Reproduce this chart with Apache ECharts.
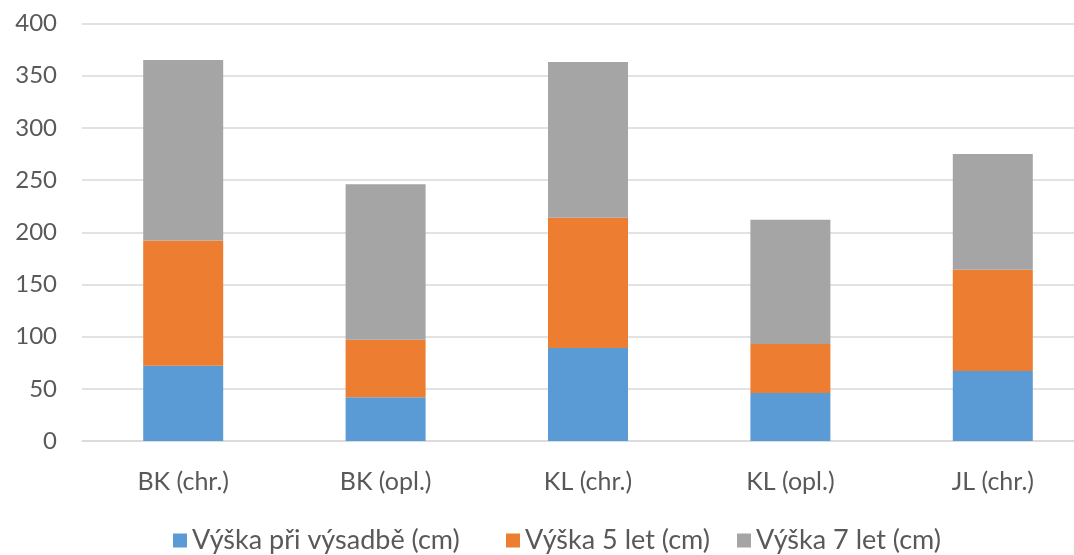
<!DOCTYPE html>
<html>
<head>
<meta charset="utf-8">
<script src="https://cdn.jsdelivr.net/npm/echarts@6/dist/echarts.min.js"></script>
<style>
  html, body { margin: 0; padding: 0; background: #fff; width: 1074px; height: 555px; overflow: hidden; }
  /* the plot area runs a little past the right edge of the page */
  #chart { width: 1094px; height: 555px; }
</style>
</head>
<body>
<div id="chart"></div>
<script>
// Kategorie (lokality)
const categories = ['BK (chr.)', 'BK (opl.)', 'KL (chr.)', 'KL (opl.)', 'JL (chr.)'];

// Názvy řad
const seriesNames = ['Výška při výsadbě (cm)', 'Výška 5 let (cm)', 'Výška 7 let (cm)'];

// Hodnoty jednotlivých segmentů (skládané sloupce)
const vyskaVysadba = [72, 42, 89, 46, 67];
const vyskaPet = [120, 55, 125, 47, 97];
const vyskaSedm = [173, 149, 149, 119, 111];

// Popisky osy Y
const yTicks = [0, 50, 100, 150, 200, 250, 300, 350, 400];

const colors = ['#5B9BD5', '#ED7D31', '#A5A5A5'];
const textColor = '#595959';
const fontFamily = 'Lato, "Open Sans", sans-serif';

const chart = echarts.init(document.getElementById('chart'), null, { renderer: 'canvas' });

const values = [vyskaVysadba, vyskaPet, vyskaSedm];

// one legend block per series, each placed on its own
const legendLeft = [173, 506, 737];
const legends = seriesNames.map((name, i) => ({
  left: legendLeft[i],
  top: 527,
  padding: 0,
  itemWidth: 14,
  itemHeight: 14,
  itemGap: 0,
  icon: 'rect',
  textStyle: { fontSize: 27, color: textColor, fontFamily: fontFamily },
  data: [name]
}));

chart.setOption({
  animation: false,
  color: colors,
  textStyle: { fontFamily: fontFamily, color: textColor },
  grid: { left: 82, top: 23.5, right: 0, bottom: 114, containLabel: false },
  legend: legends,
  xAxis: {
    type: 'category',
    data: categories,
    axisLine: { lineStyle: { color: '#d9d9d9', width: 1.5 } },
    axisTick: { show: false },
    axisLabel: { fontSize: 25, color: textColor, margin: 28, fontFamily: fontFamily }
  },
  yAxis: {
    type: 'value',
    min: yTicks[0],
    max: yTicks[yTicks.length - 1],
    interval: yTicks[1] - yTicks[0],
    axisLine: { show: false },
    axisTick: { show: false },
    splitLine: { lineStyle: { color: '#d9d9d9', width: 1.5 } },
    axisLabel: { fontSize: 24, color: textColor, margin: 25, fontFamily: fontFamily }
  },
  series: seriesNames.map((name, i) => ({
    name: name,
    type: 'bar',
    stack: 'vyska',
    barWidth: 80,
    data: values[i],
    itemStyle: { color: colors[i] }
  }))
});
</script>
</body>
</html>
